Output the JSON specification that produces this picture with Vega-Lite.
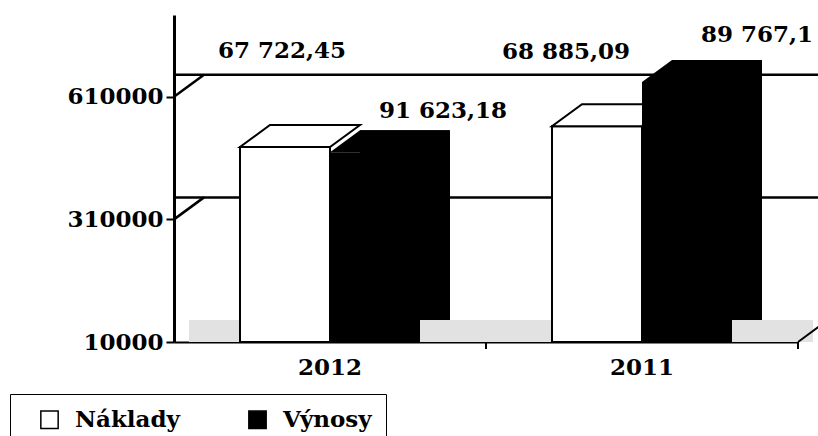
{
  "$schema": "https://vega.github.io/schema/vega-lite/v6.json",
  "width": 624,
  "height": 327,
  "autosize": {"type": "none"},
  "padding": {"left": 174, "top": 15, "right": 20, "bottom": 94},
  "background": "white",
  "config": {"view": {"stroke": null}, "font": "DejaVu Serif"},
  "datasets": {
    "bars": [
      {"year": "2012", "series": "Náklady", "value": 487000, "label": "67 722,45"},
      {"year": "2012", "series": "Výnosy", "value": 474000, "label": "91 623,18"},
      {"year": "2011", "series": "Náklady", "value": 538000, "label": "68 885,09"},
      {"year": "2011", "series": "Výnosy", "value": 646000, "label": "89 767,1"}
    ],
    "grid": [{"value": 310000}, {"value": 610000}]
  },
  "data": {"name": "bars"},
  "resolve": {"scale": {"xOffset": "independent"}},
  "layer": [
    {
      "transform": [{"filter": "datum.series === 'Náklady'"}],
      "mark": {"type": "bar", "fill": "#e2e2e2", "strokeWidth": 0, "xOffset": 15, "y2Offset": -22},
      "encoding": {
        "x": {
          "field": "year", "type": "nominal", "title": null,
          "scale": {"type": "band", "domain": ["2012", "2011"], "paddingInner": 0, "paddingOuter": 0},
          "axis": {"title": null, "labelAngle": 0, "ticks": false, "domainColor": "black", "domainWidth": 2, "labelFont": "DejaVu Serif", "labelFontWeight": "bold", "labelFontSize": 23, "labelColor": "black", "labelPadding": 14}
        },
        "y": {
          "datum": 10000, "type": "quantitative", "title": null,
          "scale": {"domain": [10000, 810000], "nice": false, "zero": false},
          "axis": {"title": null, "values": [10000, 310000, 610000], "format": "d", "grid": false, "domainColor": "black", "domainWidth": 3, "tickColor": "black", "tickWidth": 2, "tickSize": 8, "labelFont": "DejaVu Serif", "labelFontWeight": "bold", "labelFontSize": 23, "labelColor": "black", "labelPadding": 3}
        },
        "y2": {"datum": 10000}
      }
    },
    {
      "data": {"name": "grid"},
      "mark": {"type": "rule", "color": "black", "strokeWidth": 2.5, "xOffset": 30, "x2Offset": 30, "yOffset": -22},
      "encoding": {"y": {"field": "value", "type": "quantitative", "title": null}}
    },
    {
      "data": {"name": "grid"},
      "mark": {"type": "point", "shape": "M 0 0 L 1 -0.73333", "size": 3600, "filled": false, "stroke": "black", "strokeWidth": 2.5, "opacity": 1},
      "encoding": {
        "x": {"datum": "2012", "bandPosition": 0, "title": null},
        "y": {"field": "value", "type": "quantitative", "title": null}
      }
    },
    {
      "transform": [{"filter": "datum.series === 'Náklady'"}],
      "mark": {"type": "rule", "color": "black", "strokeWidth": 2, "y2Offset": 7},
      "encoding": {
        "x": {"field": "year", "type": "nominal", "bandPosition": 1, "title": null},
        "y": {"datum": 10000, "type": "quantitative", "title": null},
        "y2": {"datum": 10000}
      }
    },
    {
      "transform": [{"filter": "datum.series === 'Náklady' && datum.year === '2011'"}],
      "mark": {"type": "point", "shape": "M 0 0 L 1 -0.73333", "size": 3600, "filled": false, "stroke": "black", "strokeWidth": 2, "opacity": 1},
      "encoding": {
        "x": {"field": "year", "type": "nominal", "bandPosition": 1, "title": null},
        "y": {"datum": 10000, "type": "quantitative", "title": null}
      }
    },
    {
      "transform": [{"filter": "datum.series === 'Náklady'"}],
      "mark": {"type": "bar", "stroke": "black", "strokeWidth": 2},
      "encoding": {
        "x": {"field": "year", "type": "nominal", "title": null},
        "xOffset": {"field": "series", "type": "nominal", "scale": {"type": "band", "domain": ["Náklady", "Výnosy"], "paddingInner": 0, "paddingOuter": 0.7333}},
        "y": {"field": "value", "type": "quantitative", "title": null},
        "y2": {"datum": 10000},
        "fill": {
          "field": "series", "type": "nominal",
          "scale": {"domain": ["Náklady", "Výnosy"], "range": ["white", "black"]},
          "legend": {"title": null, "orient": "none", "legendX": -164, "legendY": 379, "direction": "horizontal", "columns": 2, "columnPadding": 52, "symbolType": "square", "symbolSize": 300, "symbolOffset": 14, "symbolStrokeColor": "black", "symbolStrokeWidth": 1.5, "symbolOpacity": 1, "labelFont": "DejaVu Serif", "labelFontWeight": "bold", "labelFontSize": 23, "labelColor": "black", "labelOffset": 14, "labelLimit": 0, "padding": 14, "strokeColor": "black", "offset": 0}
        }
      }
    },
    {
      "transform": [{"filter": "datum.series === 'Náklady'"}],
      "mark": {"type": "point", "shape": "M -0.6 0 L 0.6 0 L 1 -0.29333 L -0.2 -0.29333 Z", "size": 22500, "filled": true, "fill": "white", "stroke": "black", "strokeWidth": 2, "opacity": 1},
      "encoding": {
        "x": {"field": "year", "type": "nominal", "title": null},
        "xOffset": {"field": "series", "type": "nominal", "scale": {"type": "band", "domain": ["Náklady", "Výnosy"], "paddingInner": 0, "paddingOuter": 0.7333}},
        "y": {"field": "value", "type": "quantitative", "title": null}
      }
    },
    {
      "transform": [{"filter": "datum.series === 'Výnosy'"}],
      "mark": {"type": "bar", "fill": "black", "strokeWidth": 0, "yOffset": -22, "y2Offset": -22},
      "encoding": {
        "x": {"field": "year", "type": "nominal", "title": null},
        "xOffset": {"field": "series", "type": "nominal", "scale": {"type": "band", "domain": ["Náklady", "Výnosy"], "paddingInner": 0, "paddingOuter": 0.7333, "range": [30, 342]}},
        "y": {"field": "value", "type": "quantitative", "title": null},
        "y2": {"datum": 10000}
      }
    },
    {
      "transform": [{"filter": "datum.series === 'Výnosy'"}],
      "mark": {"type": "bar", "fill": "black", "strokeWidth": 0},
      "encoding": {
        "x": {"field": "year", "type": "nominal", "title": null},
        "xOffset": {"field": "series", "type": "nominal", "scale": {"type": "band", "domain": ["Náklady", "Výnosy"], "paddingInner": 0, "paddingOuter": 0.7333}},
        "y": {"field": "value", "type": "quantitative", "title": null},
        "y2": {"datum": 10000}
      }
    },
    {
      "transform": [{"filter": "datum.series === 'Výnosy'"}],
      "mark": {"type": "point", "shape": "M -0.6 0 L 0.6 0 L 1 -0.29333 L -0.2 -0.29333 Z", "size": 22500, "filled": true, "fill": "black", "strokeWidth": 0, "opacity": 1},
      "encoding": {
        "x": {"field": "year", "type": "nominal", "title": null},
        "xOffset": {"field": "series", "type": "nominal", "scale": {"type": "band", "domain": ["Náklady", "Výnosy"], "paddingInner": 0, "paddingOuter": 0.7333}},
        "y": {"field": "value", "type": "quantitative", "title": null}
      }
    },
    {
      "transform": [{"filter": "datum.series === 'Náklady' && datum.year === '2012'"}],
      "mark": {"type": "text", "font": "DejaVu Serif", "fontWeight": "bold", "fontSize": 23, "fill": "black", "align": "center", "baseline": "middle", "dx": -3, "dy": -96},
      "encoding": {
        "x": {"field": "year", "type": "nominal", "title": null},
        "xOffset": {"field": "series", "type": "nominal", "scale": {"type": "band", "domain": ["Náklady", "Výnosy"], "paddingInner": 0, "paddingOuter": 0.7333}},
        "y": {"field": "value", "type": "quantitative", "title": null},
        "text": {"field": "label"}
      }
    },
    {
      "transform": [{"filter": "datum.series === 'Výnosy' && datum.year === '2012'"}],
      "mark": {"type": "text", "font": "DejaVu Serif", "fontWeight": "bold", "fontSize": 23, "fill": "black", "align": "center", "baseline": "middle", "dx": 68, "dy": -41},
      "encoding": {
        "x": {"field": "year", "type": "nominal", "title": null},
        "xOffset": {"field": "series", "type": "nominal", "scale": {"type": "band", "domain": ["Náklady", "Výnosy"], "paddingInner": 0, "paddingOuter": 0.7333}},
        "y": {"field": "value", "type": "quantitative", "title": null},
        "text": {"field": "label"}
      }
    },
    {
      "transform": [{"filter": "datum.series === 'Náklady' && datum.year === '2011'"}],
      "mark": {"type": "text", "font": "DejaVu Serif", "fontWeight": "bold", "fontSize": 23, "fill": "black", "align": "center", "baseline": "middle", "dx": -31, "dy": -74},
      "encoding": {
        "x": {"field": "year", "type": "nominal", "title": null},
        "xOffset": {"field": "series", "type": "nominal", "scale": {"type": "band", "domain": ["Náklady", "Výnosy"], "paddingInner": 0, "paddingOuter": 0.7333}},
        "y": {"field": "value", "type": "quantitative", "title": null},
        "text": {"field": "label"}
      }
    },
    {
      "transform": [{"filter": "datum.series === 'Výnosy' && datum.year === '2011'"}],
      "mark": {"type": "text", "font": "DejaVu Serif", "fontWeight": "bold", "fontSize": 23, "fill": "black", "align": "center", "baseline": "middle", "dx": 70, "dy": -47},
      "encoding": {
        "x": {"field": "year", "type": "nominal", "title": null},
        "xOffset": {"field": "series", "type": "nominal", "scale": {"type": "band", "domain": ["Náklady", "Výnosy"], "paddingInner": 0, "paddingOuter": 0.7333}},
        "y": {"field": "value", "type": "quantitative", "title": null},
        "text": {"field": "label"}
      }
    }
  ]
}
